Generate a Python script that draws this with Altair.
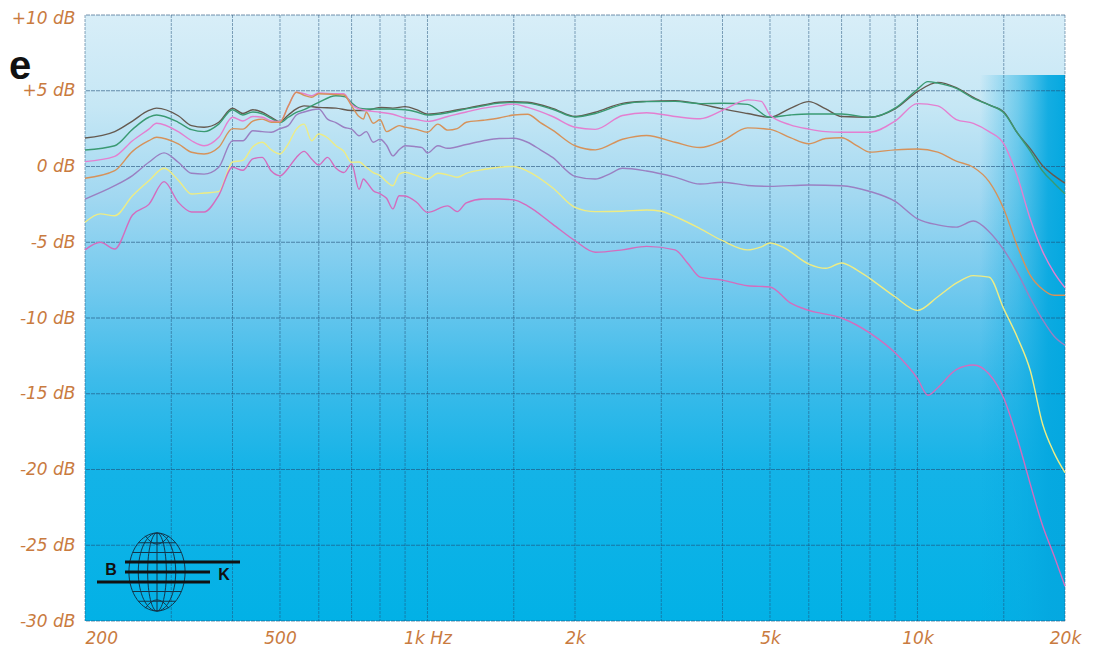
import altair as alt
import pandas as pd

# ---------------- data (frequency in Hz, level in dB) ----------------
gray = [(200,1.88),(230,2.3),(250,3.0),(270,3.7),(280,3.85),(310,3.35),(330,2.7),(350,2.59),(375,2.92),
        (400,3.84),(420,3.5),(440,3.75),(460,3.58),(480,3.25),(500,2.96),(520,3.4),(540,3.8),(560,4.0),
        (600,3.9),(650,3.85),(700,3.7),(750,3.7),(800,3.9),(850,3.85),(900,3.95),(950,3.75),(1000,3.46),
        (1100,3.62),(1200,3.84),(1300,4.06),(1400,4.24),(1500,4.28),(1600,4.24),(1800,3.84),(2000,3.3),
        (2200,3.58),(2500,4.17),(2800,4.3),(3200,4.35),(3600,4.12),(4000,3.8),(4500,3.5),(5000,3.25),
        (5500,3.84),(6000,4.28),(6500,3.8),(7000,3.3),(8000,3.25),(9000,3.8),(10000,4.94),(11000,5.55),
        (12000,5.2),(13000,4.57),(14000,4.06),(15000,3.6),(16000,2.2),(17000,1.16),(18000,0.05),
        (19000,-0.6),(20000,-1.1)]

green = [(200,1.09),(230,1.37),(250,2.45),(270,3.25),(280,3.4),(310,2.92),(330,2.43),(350,2.3),(375,2.8),
         (400,3.75),(420,3.4),(440,3.6),(460,3.47),(480,3.18),(500,2.9),(520,3.25),(540,3.57),(560,3.75),
         (600,4.24),(650,4.67),(680,4.6),(700,4.2),(725,3.85),(750,3.8),(800,3.8),(850,3.78),(900,3.75),
         (950,3.6),(1000,3.4),(1100,3.55),(1200,3.8),(1300,4.0),(1400,4.18),(1500,4.22),(1600,4.18),
         (1800,3.78),(2000,3.27),(2200,3.5),(2500,4.1),(2800,4.28),(3200,4.3),(3600,4.15),(4000,4.17),
         (4500,4.1),(5000,3.25),(5500,3.4),(6000,3.47),(7000,3.47),(8000,3.25),(9000,3.85),(10000,5.1),
         (10500,5.6),(11000,5.5),(12000,5.15),(13000,4.5),(14000,4.06),(15000,3.55),(16000,2.2),
         (17000,1.0),(18000,-0.3),(19000,-1.1),(20000,-1.8)]

pink_hi = [(200,0.32),(230,0.67),(250,1.7),(270,2.47),(280,2.85),(310,2.3),(330,1.7),(350,1.37),(375,1.93),
           (400,3.25),(420,3.0),(440,3.3),(460,3.25),(480,3.0),(500,2.96),(520,4.0),(540,4.9),(560,4.8),
           (580,4.67),(600,4.85),(650,4.8),(675,4.8),(700,4.1),(725,3.8),(750,3.7),(800,3.58),(850,3.45),
           (900,3.2),(950,3.1),(1000,2.98),(1100,3.3),(1200,3.6),(1300,3.85),(1400,4.0),(1500,4.12),
           (1600,3.9),(1800,3.3),(2000,2.59),(2200,2.45),(2500,3.37),(2800,3.55),(3200,3.3),(3600,3.15),
           (4000,3.7),(4500,4.4),(4800,4.3),(5000,3.4),(5500,2.75),(6000,2.47),(6500,2.3),(7000,2.26),
           (8000,2.26),(9000,3.0),(10000,4.15),(11000,4.0),(12000,3.1),(13000,2.85),(14000,2.3),
           (15000,1.5),(16000,-0.7),(17000,-3.5),(18000,-5.6),(19000,-7.0),(20000,-8.0)]

orange = [(200,-0.78),(230,-0.28),(250,1.0),(270,1.7),(280,1.93),(310,1.49),(330,0.94),(350,0.83),(375,1.27),
          (400,2.5),(420,2.47),(440,3.0),(460,3.13),(480,2.92),(500,2.92),(520,4.0),(540,4.9),(560,4.7),
          (580,4.57),(600,4.8),(650,4.75),(675,4.72),(700,4.0),(725,3.3),(740,3.13),(750,3.58),(775,2.85),
          (800,3.1),(825,2.3),(850,2.5),(875,2.7),(900,2.6),(950,2.45),(1000,2.26),(1050,2.8),(1100,2.4),
          (1150,2.5),(1200,2.92),(1300,3.05),(1400,3.2),(1500,3.4),(1600,3.45),(1700,2.9),(1800,2.4),
          (2000,1.37),(2200,1.1),(2500,1.8),(2800,2.05),(3200,1.6),(3600,1.25),(4000,1.7),(4500,2.55),
          (5000,2.45),(5500,1.9),(6000,1.5),(6500,1.85),(7000,1.9),(7500,1.4),(8000,0.95),(9000,1.1),
          (10000,1.16),(11000,0.95),(12000,0.35),(13000,-0.05),(14000,-1.0),(15000,-2.8),(16000,-5.3),
          (17000,-7.2),(18000,-8.1),(19000,-8.5),(20000,-8.5)]

purple = [(200,-2.15),(230,-1.27),(250,-0.6),(270,0.28),(290,0.9),(310,0.28),(330,-0.45),(350,-0.5),
          (375,-0.05),(400,1.7),(420,1.7),(440,2.36),(460,2.3),(480,2.26),(500,2.5),(520,2.7),(540,3.4),
          (560,3.6),(600,3.8),(625,3.13),(650,2.9),(675,2.59),(700,2.47),(725,2.03),(750,2.3),(775,1.6),
          (800,1.8),(825,1.4),(850,0.7),(875,1.1),(900,1.37),(950,1.3),(975,1.25),(1000,0.89),(1050,1.37),
          (1100,1.2),(1200,1.45),(1300,1.7),(1400,1.85),(1500,1.86),(1600,1.6),(1700,1.1),(1800,0.6),
          (2000,-0.65),(2200,-0.83),(2350,-0.5),(2500,-0.12),(2800,-0.3),(3200,-0.7),(3600,-1.16),
          (4000,-1.04),(4500,-1.25),(5000,-1.31),(6000,-1.22),(7000,-1.27),(8000,-1.65),(9000,-2.3),
          (10000,-3.45),(11000,-3.85),(12000,-4.0),(13000,-3.6),(14000,-4.3),(15000,-5.5),(16000,-7.0),
          (17000,-8.7),(18000,-10.1),(19000,-11.2),(20000,-11.8)]

yellow = [(200,-3.68),(215,-3.13),(230,-3.25),(250,-1.93),(270,-0.94),(290,-0.12),(310,-0.9),(330,-1.82),
          (350,-1.75),(375,-1.66),(400,0.3),(420,0.4),(440,1.3),(460,1.6),(480,1.1),(500,0.83),(520,1.5),
          (540,2.47),(560,2.8),(580,1.7),(600,2.15),(625,1.9),(650,1.37),(675,1.0),(700,0.28),(725,0.3),
          (750,-0.05),(775,-0.4),(800,-0.6),(825,-1.0),(850,-1.27),(875,-0.5),(900,-0.38),(950,-0.6),
          (1000,-0.83),(1050,-0.45),(1100,-0.55),(1150,-0.71),(1200,-0.45),(1300,-0.2),(1400,-0.05),
          (1500,0.0),(1600,-0.3),(1800,-1.4),(2000,-2.7),(2200,-2.98),(2500,-2.95),(2800,-2.87),
          (3000,-2.95),(3200,-3.3),(3600,-4.1),(4000,-4.9),(4500,-5.5),(4800,-5.3),(5000,-5.05),
          (5300,-5.3),(6000,-6.44),(6500,-6.72),(7000,-6.37),(7500,-6.8),(8000,-7.4),(9000,-8.6),
          (10000,-9.5),(11000,-8.6),(12000,-7.7),(13000,-7.2),(14000,-7.3),(15000,-9.4),(16000,-11.3),
          (17000,-13.5),(18000,-17.0),(19000,-18.9),(20000,-20.2)]

pink_lo = [(200,-5.5),(215,-5.0),(230,-5.45),(250,-3.2),(270,-2.5),(290,-1.0),(310,-2.36),(330,-3.0),
           (350,-3.0),(375,-1.9),(400,-0.05),(420,-0.25),(440,0.5),(460,0.6),(480,-0.3),(500,-0.61),
           (520,-0.1),(540,0.6),(560,1.0),(580,0.5),(600,0.1),(625,0.6),(650,-0.1),(675,-0.4),(700,0.17),
           (725,-1.5),(740,-0.83),(750,-1.0),(775,-1.6),(800,-1.8),(825,-2.1),(850,-2.8),(875,-1.93),
           (900,-1.95),(950,-2.36),(1000,-3.03),(1100,-2.6),(1150,-2.98),(1200,-2.4),(1300,-2.15),
           (1400,-2.15),(1500,-2.2),(1600,-2.6),(1800,-3.8),(2000,-4.9),(2200,-5.66),(2500,-5.5),
           (2800,-5.27),(3200,-5.5),(3400,-6.4),(3600,-7.3),(4000,-7.5),(4500,-7.87),(5000,-7.95),
           (5500,-9.0),(6000,-9.5),(7000,-10.0),(8000,-11.0),(9000,-12.3),(10000,-14.0),(10500,-15.1),
           (11000,-14.6),(12000,-13.4),(13000,-13.1),(14000,-13.7),(15000,-15.3),(16000,-18.0),
           (16500,-19.5),(17000,-21.0),(18000,-23.7),(19000,-25.7),(20000,-27.7)]

series_names = ["gray", "green", "pink_hi", "orange", "purple", "yellow", "pink_lo"]
series_colors = ["#655a50", "#3a9a72", "#e47fd0", "#d6925a", "#9a80c2", "#eeec84", "#d46cbe"]
series_data = [gray, green, pink_hi, orange, purple, yellow, pink_lo]

x_grid = [200, 300, 400, 500, 600, 700, 800, 900, 1000, 1500, 2000, 3000, 4000, 5000,
          6000, 7000, 8000, 9000, 10000, 15000, 20000]
y_grid = [-30, -25, -20, -15, -10, -5, 0, 5, 10]

# ---------------- build table ----------------
rows = []
for name, pts in zip(series_names, series_data):
    for f, db in pts:
        rows.append({"f": f, "db": db, "s": name})
df = pd.DataFrame(rows)

W, H = 980, 606
xscale = alt.Scale(type="log", domain=[200, 20000], nice=False)
yscale = alt.Scale(domain=[-30, 10], nice=False, zero=False)

label_color = "#c97b3f"
xaxis = alt.Axis(
    values=x_grid, grid=False, domain=False, ticks=False, title=None,
    labelExpr=("datum.value==200?'200':datum.value==500?'500':datum.value==1000?'1k Hz':"
               "datum.value==2000?'2k':datum.value==5000?'5k':datum.value==10000?'10k':"
               "datum.value==20000?'20k':''"),
    labelOverlap=False, labelFont="DejaVu Sans", labelFontStyle="italic", labelFontSize=17,
    labelColor=label_color, labelPadding=9,
    labelAlign={"condition": {"test": "datum.value == 200", "value": "left"}, "value": "center"},
)
yaxis = alt.Axis(
    values=y_grid, grid=False, domain=False, ticks=False, title=None,
    labelExpr="datum.value > 0 ? '+' + datum.value + ' dB' : datum.value + ' dB'",
    labelOverlap=False, labelFont="DejaVu Sans", labelFontStyle="italic", labelFontSize=17,
    labelColor=label_color, labelPadding=10,
    labelBaseline={"condition": {"test": "datum.value == 10", "value": "top"}, "value": "middle"},
    labelOffset={"condition": {"test": "datum.value == 10", "value": -5}, "value": 0},
)

one = pd.DataFrame({"k": [0]})

bg = alt.Chart(one).mark_rect(
    fill=alt.Gradient(
        gradient="linear", x1=0, x2=0, y1=0, y2=1,
        stops=[
            alt.GradientStop(offset=0.0, color="#d8eef8"),
            alt.GradientStop(offset=0.15, color="#c6e7f5"),
            alt.GradientStop(offset=0.3, color="#a2d8f1"),
            alt.GradientStop(offset=0.45, color="#72c9ee"),
            alt.GradientStop(offset=0.6, color="#3dbbea"),
            alt.GradientStop(offset=0.75, color="#14b3e7"),
            alt.GradientStop(offset=1.0, color="#02b1e6"),
        ],
    )
).encode(x=alt.value(0), x2=alt.value(W), y=alt.value(0), y2=alt.value(H))

band = alt.Chart(one).mark_rect(
    fill=alt.Gradient(
        gradient="linear", x1=0, x2=1, y1=0, y2=0,
        stops=[
            alt.GradientStop(offset=0.0, color="rgba(8,170,225,0)"),
            alt.GradientStop(offset=0.45, color="rgba(8,170,225,0.45)"),
            alt.GradientStop(offset=0.8, color="rgba(5,168,224,0.92)"),
            alt.GradientStop(offset=1.0, color="rgba(5,168,224,1)"),
        ],
    )
).encode(x=alt.value(W - 85), x2=alt.value(W), y=alt.value(60), y2=alt.value(H))

vgrid = alt.Chart(pd.DataFrame({"f": x_grid})).mark_rule(
    color="#1f4f78", opacity=0.5, strokeWidth=1, strokeDash=[3, 1]
).encode(x=alt.X("f:Q", scale=xscale, axis=xaxis))

hgrid = alt.Chart(pd.DataFrame({"db": y_grid})).mark_rule(
    color="#1f4f78", opacity=0.6, strokeWidth=1.2, strokeDash=[4, 1]
).encode(y=alt.Y("db:Q", scale=yscale, axis=yaxis))

lines = alt.Chart(df).mark_line(interpolate="monotone", strokeWidth=1.4).encode(
    x=alt.X("f:Q", scale=xscale, axis=xaxis),
    y=alt.Y("db:Q", scale=yscale, axis=yaxis),
    color=alt.Color("s:N", scale=alt.Scale(domain=series_names, range=series_colors), legend=None),
)

# ---------------- decorations: logo and title letter ----------------
globe_path = (
    "M0,-1 A0.72,1 0 1,1 0,1 A0.72,1 0 1,1 0,-1 Z "
    "M0,-1 A0.48,1 0 1,1 0,1 A0.48,1 0 1,1 0,-1 Z "
    "M0,-1 A0.24,1 0 1,1 0,1 A0.24,1 0 1,1 0,-1 Z "
    "M0,-1 L0,1 "
    "M-0.697,-0.25 L0.697,-0.25 M-0.697,0.25 L0.697,0.25 "
    "M-0.624,-0.5 L0.624,-0.5 M-0.624,0.5 L0.624,0.5 "
    "M-0.476,-0.75 L0.476,-0.75 M-0.476,0.75 L0.476,0.75 "
    "M-0.3,-0.93 Q0,-0.5 0.3,-0.93 M-0.3,0.93 Q0,0.5 0.3,0.93"
)
globe = alt.Chart(one).mark_point(
    shape=globe_path, size=6084, filled=False, stroke="#15283a", strokeWidth=1, opacity=0.9
).encode(x=alt.value(72), y=alt.value(557))

bar1 = alt.Chart(one).mark_rule(color="#111111", strokeWidth=3).encode(
    x=alt.value(40), x2=alt.value(155), y=alt.value(547))
bar2 = alt.Chart(one).mark_rule(color="#111111", strokeWidth=3).encode(
    x=alt.value(40), x2=alt.value(125), y=alt.value(557))
bar3 = alt.Chart(one).mark_rule(color="#111111", strokeWidth=3).encode(
    x=alt.value(12), x2=alt.value(125), y=alt.value(567))
txt_b = alt.Chart(one).mark_text(text="B", font="Liberation Sans", fontSize=16, fontWeight="bold",
                                 color="#111111", baseline="middle").encode(
    x=alt.value(26), y=alt.value(555))
txt_k = alt.Chart(one).mark_text(text="K", font="Liberation Sans", fontSize=16, fontWeight="bold",
                                 color="#111111", baseline="middle").encode(
    x=alt.value(139), y=alt.value(560))
letter_e = alt.Chart(one).mark_text(text="e", font="Liberation Sans", fontSize=40, fontWeight="bold",
                                    color="#111111", align="left", baseline="alphabetic").encode(
    x=alt.value(-76), y=alt.value(64))

chart = alt.layer(
    bg, band, vgrid, hgrid, lines, globe, bar1, bar2, bar3, txt_b, txt_k, letter_e
).properties(
    width=W, height=H,
    autosize=alt.AutoSizeParams(type="none"),
    padding={"left": 77, "top": 7, "right": 24, "bottom": 29},
    background="white",
).configure_view(stroke=None)

chart.save("out.html", embed_options={"renderer": "svg", "actions": False})
